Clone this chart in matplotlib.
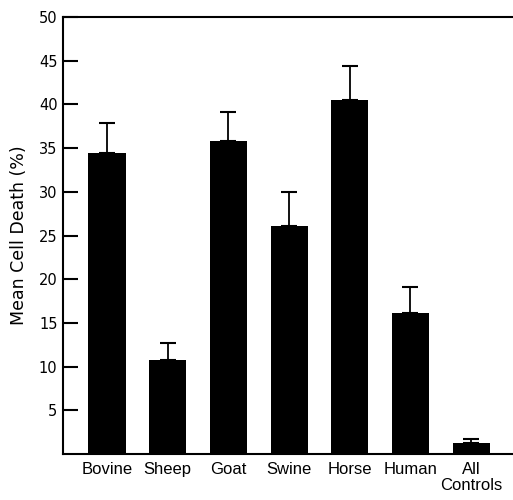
import matplotlib
matplotlib.use("Agg")
import matplotlib.pyplot as plt
import numpy as np

categories = ["Bovine", "Sheep", "Goat", "Swine", "Horse", "Human", "All\nControls"]
means = [34.4, 10.8, 35.8, 26.1, 40.5, 16.1, 1.3]
errors = [3.5, 1.9, 3.3, 3.9, 3.9, 3.0, 0.4]
yticks = [5, 10, 15, 20, 25, 30, 35, 40, 45, 50]

fig = plt.figure(figsize=(5.13, 5.0), dpi=100)
ax = fig.add_axes([63/513, 1 - 454/500, 1 - 63/513, (454 - 17)/500])

x = np.arange(len(categories))
ax.bar(x, means, width=0.61, color="black")
ax.errorbar(x, means, yerr=[np.zeros(len(errors)), errors], fmt="none",
            ecolor="black", elinewidth=1.3, capsize=5.8, capthick=1.5)

ax.set_xlim(-0.725, 6.69)
ax.set_ylim(0, 50)
ax.set_yticks(yticks)
ax.set_yticklabels([str(t) for t in yticks], fontsize=10.5)
ax.tick_params(axis="y", direction="in", length=11, width=1.5, pad=4)
ax.set_xticks(x)
ax.set_xticklabels(categories, fontsize=12,
                   family=["Liberation Sans", "DejaVu Sans"],
                   linespacing=1.05)
ax.tick_params(axis="x", length=0, pad=6)

for s in ["left", "top", "bottom"]:
    ax.spines[s].set_linewidth(1.5)
ax.spines["right"].set_visible(False)

ax.set_ylabel("Mean Cell Death (%)", fontsize=12.5, labelpad=8)

fig.savefig("out.png", dpi=100)
